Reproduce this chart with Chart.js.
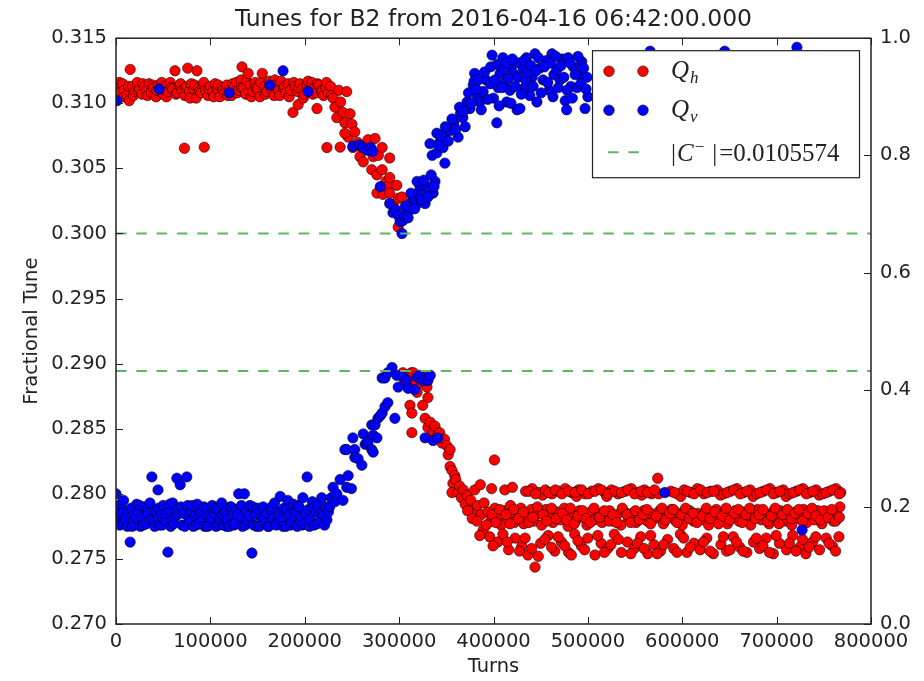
<!DOCTYPE html>
<html>
<head>
<meta charset="utf-8">
<title>Tunes for B2</title>
<script src="https://cdn.jsdelivr.net/npm/chart.js@4.4.0/dist/chart.umd.min.js"></script>
<style>
  html, body { margin: 0; padding: 0; background: #fff; }
  #wrap { width: 924px; height: 681px; }
</style>
</head>
<body>
<div id="wrap"><canvas id="tunes" width="924" height="681"></canvas></div>
<script>
// --- axis limits and tick steps ---
const turnRange = [0, 800000];
const turnStep = 100000;
const tuneRange = [0.270, 0.315];
const tuneStep = 0.005;
const rightRange = [0.0, 1.0];
const rightStep = 0.2;

// dashed levels and the |C-| value shown in the legend
const couplingLevels = [0.3, 0.2894426];
const cMinusText = '0.0105574';

// --- Q_h (red), [turns, tune] ---
const qhBandBefore = [
  [2000,0.3112],[3500,0.3116],[4500,0.3108],[7000,0.3115],[8500,0.3105],[9000,0.3110],[11500,0.3106],[13500,0.3113],
  [14000,0.3102],[15000,0.3126],[17500,0.3113],[18500,0.3106],[20000,0.3109],[22500,0.3116],[23500,0.3110],[25000,0.3111],
  [27500,0.3107],[28500,0.3115],[30000,0.3113],[32500,0.3110],[33500,0.3106],[35000,0.3115],[37500,0.3108],[38500,0.3114],
  [40000,0.3112],[42500,0.3105],[43500,0.3110],[45000,0.3114],[47500,0.3110],[48500,0.3116],[50000,0.3107],[52500,0.3113],
  [53500,0.3105],[55000,0.3109],[57500,0.3116],[58500,0.3112],[60000,0.3111],[62500,0.3125],[63500,0.3107],[65000,0.3108],
  [67500,0.3114],[68500,0.3115],[70000,0.3110],[72500,0.30655],[73000,0.3106],[73500,0.3112],[75000,0.3113],[76000,0.3127],
  [78000,0.3109],[78500,0.3104],[80000,0.3115],[82500,0.3111],[83500,0.3114],[85000,0.3104],[85800,0.3125],[87500,0.3112],
  [88500,0.3109],[90000,0.3108],[92500,0.3114],[93000,0.3116],[93500,0.30663],[95000,0.3110],[97500,0.3106],[98500,0.3111],
  [100000,0.3113],[102500,0.3109],[103500,0.3105],[105000,0.3115],[107500,0.3111],[108500,0.3114],[110000,0.3105],[112500,0.3112],
  [113500,0.3110],[115000,0.3108],[117500,0.3114],[118500,0.3106],[120000,0.3110],[122500,0.3106],[123500,0.3115],[125000,0.3113],
  [127500,0.3116],[128500,0.3108],[130000,0.3110],[132500,0.3118],[133000,0.3112],[133500,0.3128],[135000,0.3112],[137500,0.3107],
  [138500,0.3117],[140000,0.3123],[142500,0.3114],[143500,0.3105],[145000,0.3109],[147500,0.3116],[148500,0.3112],[150000,0.3111],
  [152500,0.3105],[153500,0.3116],[155000,0.3123],[157500,0.3113],[158500,0.3107],[160000,0.3109],[162500,0.3117],[163500,0.3113],
  [165000,0.3111],[167500,0.3106],[168500,0.3118],[170000,0.3114],[172500,0.3110],[173500,0.3106],[175000,0.3117],[177500,0.3112],
  [178500,0.3113],[180000,0.3108],[182500,0.3115],[183500,0.3105],[185000,0.3110],[187500,0.3093],[188500,0.3116],[190000,0.3113],
  [192500,0.3109],[193000,0.3099],[193500,0.3112],[195000,0.3115],[197500,0.3111],[198500,0.3104],[200000,0.3107],[202500,0.3114],
  [203500,0.3117],[205000,0.3110],[207500,0.3116],[208500,0.3107],[210000,0.3112],[212500,0.3108],[213000,0.3096],[213500,0.3115],
  [215000,0.3114],[217500,0.3110],[218500,0.3109],[220000,0.3106],[222500,0.3112],[223000,0.3116],[223500,0.3066],[225000,0.3108],
  [227500,0.3113],[228500,0.3106],[230000,0.3104],[232000,0.3097],[234000,0.3089],[236000,0.3110],[238000,0.3101],[240500,0.3093],
  [242500,0.3085],[244500,0.3109]
];
const qhFall = [
  [246000,0.3074],[242500,0.3077],[237500,0.30663],[248000,0.3092],[250000,0.3084],[251000,0.3066],[253000,0.3078],[256000,0.3070],
  [258500,0.3059],[260000,0.3066],[262000,0.3055],[264000,0.3068],[267000,0.3072],[268000,0.3064],[271000,0.3049],[272500,0.3059],
  [274500,0.3073],[276500,0.3045],[276500,0.3031],[278000,0.3060],[282000,0.3066],[282000,0.3049],[283000,0.3030],[286000,0.3040],
  [288000,0.3036],[290000,0.3043],[290000,0.3031],[290000,0.3058],[293500,0.3022],[295500,0.3019],[297500,0.3037],[299000,0.3027],
  [299000,0.3005],[301000,0.3012],[303000,0.3028]
];
const qhAfter = [
  [304000,0.2893],[306000,0.2886],[309000,0.2891],[311500,0.2884],[313000,0.2893],[315000,0.2893],[317000,0.2887],[319000,0.2878],
  [321000,0.2889],[324000,0.2885],[327000,0.2890],[329500,0.2882],[330500,0.2874],[311500,0.2868],[313500,0.2862],[325000,0.2868],
  [313500,0.2847],[327500,0.2858],[330500,0.2851],[333000,0.2855],[336000,0.2847],[338000,0.2852],[340000,0.2844],[343000,0.2847],
  [345500,0.2839],[348000,0.2842],[350500,0.2837],[352000,0.2830],[354000,0.2834],[354000,0.2821],[356000,0.2818],[359000,0.2814],
  [357000,0.2808],[356000,0.2801],[362500,0.2801],[360000,0.2811],[364000,0.2806],[366000,0.2797],[368000,0.2803],[370000,0.2792],
  [372000,0.2799],[376000,0.2795],[379000,0.2788],[380000,0.2803],[383000,0.2791],[386000,0.2807],[387000,0.2784],[389000,0.2772],
  [390000,0.2793],[394000,0.2786],[396000,0.2767],[397000,0.2779],[398000,0.2804],[401000,0.2826],[401500,0.2789],[404000,0.2782],
  [404500,0.2763],[408000,0.2776],[410000,0.2769],[411000,0.2787],[412000,0.2803],[415000,0.2781],[416000,0.2757],[418000,0.2791],
  [420000,0.2805],[422000,0.2778],[423000,0.2766],[425000,0.2785],[429000,0.2789],[430000,0.2760],[432000,0.2777],[434000,0.2802],
  [436000,0.2783],[436500,0.2753],[440000,0.2788],[441000,0.2804],[443000,0.2779],[444000,0.27437],[447000,0.2785],[448000,0.2801],
  [450000,0.2762],[451000,0.2776],[452000,0.2799],[455000,0.2803],[455500,0.2788],[458000,0.2768],[459000,0.2782],[462000,0.2800],
  [463000,0.2778],[465000,0.2756],[467000,0.2786],[469000,0.2802],[471000,0.2780],[472000,0.2763],[475000,0.2789],[476000,0.2804],
  [479000,0.2775],[479500,0.2755],[483000,0.2801],[483500,0.2784],[486000,0.2769],[487000,0.2779],[488000,0.2798],[490000,0.2803],
  [491000,0.2787],[493000,0.2760],[495000,0.2782],[497000,0.2800],[499000,0.2776],[500000,0.2766],[503000,0.2786],[504000,0.2802],
  [507000,0.2780],[507500,0.2753],[511000,0.2804],[511500,0.2785],[514000,0.2762],[515000,0.2778],[518000,0.2801],[519000,0.2783],
  [520000,0.2798],[521000,0.2758],[523000,0.2787],[525000,0.2803],[527000,0.2779],[528000,0.2769],[531000,0.2784],[532000,0.2800],
  [535000,0.2776],[535500,0.2755],[539000,0.2786],[539500,0.2802],[542000,0.2763],[543000,0.2781],[546000,0.2804],[547000,0.2785],
  [549000,0.2758],[551000,0.2778],[553000,0.2801],[555000,0.2783],[556000,0.2767],[557000,0.2799],[559000,0.2787],[560000,0.2803],
  [563000,0.2779],[563500,0.2754],[567000,0.2785],[567500,0.2800],[570000,0.2761],[571000,0.2781],[574000,0.2812],[575000,0.2800],
  [576000,0.2787],[577000,0.2756],[580000,0.2777],[584000,0.2783],[584500,0.2765],[588000,0.2802],[588500,0.2788],[591000,0.2758],
  [592000,0.2780],[595000,0.2800],[596000,0.2785],[598000,0.2769],[598500,0.2798],[600000,0.2776],[602000,0.2803],[604000,0.2783],
  [605000,0.2755],[608000,0.2787],[609000,0.2801],[612000,0.2779],[612500,0.2762],[616000,0.2804],[616500,0.2785],[619000,0.2757],
  [620000,0.2780],[623000,0.2800],[624000,0.2786],[626000,0.2766],[628000,0.2776],[630000,0.2802],[632000,0.2783],[633000,0.2754],
  [636000,0.2788],[637000,0.2803],[640000,0.2781],[640500,0.2799],[641000,0.2761],[644000,0.2800],[644500,0.2785],[647000,0.2756],
  [648000,0.2777],[651000,0.2802],[652000,0.2784],[654000,0.2767],[656000,0.2787],[658000,0.2804],[660000,0.2779],[661000,0.2759],
  [664000,0.2786],[665000,0.2801],[668000,0.2781],[668500,0.2755],[672000,0.2803],[672500,0.2776],[675000,0.2798],[675500,0.2763],
  [676000,0.2785],[679000,0.2800],[680000,0.2788],[682000,0.2758],[684000,0.2780],[686000,0.2802],[688000,0.2784],[689000,0.2766],
  [692000,0.2777],[693000,0.2804],[696000,0.2786],[696500,0.2754],[700000,0.2801],[700500,0.2782],[703000,0.2762],[704000,0.2787],
  [707000,0.2803],[708000,0.2779],[710000,0.2798],[710500,0.2757],[712000,0.2784],[714000,0.2800],[716000,0.2776],[717000,0.2768],
  [720000,0.2786],[721000,0.2802],[724000,0.2781],[724500,0.2759],[728000,0.2804],[728500,0.2788],[731000,0.2754],[732000,0.2778],
  [735000,0.2801],[736000,0.2784],[738000,0.2763],[740000,0.2780],[742000,0.2803],[744000,0.2787],[745000,0.2799],[745500,0.2757],
  [748000,0.2777],[749000,0.2800],[752000,0.2783],[752500,0.2766],[756000,0.2802],[756500,0.2786],[759000,0.2760],[760000,0.2779],
  [763000,0.2804],[764000,0.2784],[766000,0.2767],[767000,0.2790],[768000,0.2801]
];
// more of the crowded lower red band (top row, middle cluster, bottom scatter)
const qhAfterTopRow = [
  [437500,0.2802],[444500,0.2800],[458500,0.2801],[465500,0.2803],[472500,0.2800],[479500,0.2802],[486500,0.2801],[493500,0.2803],
  [500500,0.2800],[507500,0.2802],[514500,0.2803],[521500,0.2800],[528500,0.2802],[535500,0.2801],[542500,0.2803],[549500,0.2800],
  [556500,0.2802],[563500,0.2801],[570500,0.2803],[591500,0.2801],[605500,0.2802],[612500,0.2800],[619500,0.2803],[626500,0.2801],
  [633500,0.2802],[647500,0.2801],[654500,0.2803],[661500,0.2800],[668500,0.2802],[682500,0.2801],[689500,0.2803],[696500,0.2800],
  [703500,0.2802],[717500,0.2801],[724500,0.2803],[731500,0.2800],[738500,0.2802],[752500,0.2801],[759500,0.2803],[766500,0.2800]
];
const qhAfterMiddle = [
  [372500,0.2787],[377500,0.2781],[382500,0.2779],[392500,0.2776],[398500,0.2784],[402500,0.2778],[406500,0.2788],[413500,0.2784],
  [417500,0.2777],[421500,0.2788],[426500,0.2781],[431500,0.2786],[437500,0.2778],[441500,0.2782],[446500,0.2790],[452500,0.2784],
  [456500,0.2779],[461500,0.2789],[466500,0.2781],[473500,0.2785],[477500,0.2780],[481500,0.2789],[485500,0.2777],[489500,0.2783],
  [494500,0.2787],[498500,0.2781],[502500,0.2778],[506500,0.2789],[512500,0.2782],[517500,0.2787],[522500,0.2779],[526500,0.2784],
  [530500,0.2778],[536500,0.2789],[541500,0.2784],[545500,0.2778],[550500,0.2787],[554500,0.2780],[558500,0.2784],[562500,0.2788],
  [566500,0.2777],[572500,0.2783],[578500,0.2789],[582500,0.2780],[586500,0.2785],[590500,0.2788],[594500,0.2778],[599500,0.2784],
  [603500,0.2789],[607500,0.2781],[611500,0.2785],[615500,0.2778],[621500,0.2783],[625500,0.2789],[629500,0.2781],[634500,0.2786],
  [638500,0.2777],[642500,0.2783],[646500,0.2789],[650500,0.2780],[655500,0.2785],[659500,0.2788],[663500,0.2778],[667500,0.2784],
  [671500,0.2789],[677500,0.2781],[681500,0.2784],[685500,0.2788],[690500,0.2779],[694500,0.2783],[698500,0.2789],[702500,0.2777],
  [706500,0.2784],[711500,0.2788],[715500,0.2781],[719500,0.2785],[723500,0.2788],[727500,0.2779],[733500,0.2785],[737500,0.2789],
  [741500,0.2783],[746500,0.2780],[750500,0.2787],[754500,0.2782],[758500,0.2788],[762500,0.2779],[766500,0.2782]
];
const qhAfterBottom = [
  [385500,0.2768],[399500,0.2760],[414500,0.2763],[427500,0.2756],[433500,0.2766],[440500,0.2758],[447500,0.2752],[454500,0.2765],
  [461500,0.2759],[468500,0.2767],[475500,0.2760],[482500,0.2753],[489500,0.2764],[496500,0.2757],[510500,0.2768],[517500,0.2755],
  [524500,0.2761],[532500,0.2765],[545500,0.2754],[552500,0.2762],[559500,0.2758],[566500,0.2768],[573500,0.2754],[580500,0.2761],
  [594500,0.2755],[601500,0.2766],[608500,0.2759],[622500,0.2763],[629500,0.2756],[643500,0.2767],[650500,0.2757],[657500,0.2763],
  [664500,0.2756],[678500,0.2766],[685500,0.2760],[692500,0.2755],[699500,0.2768],[713500,0.2762],[720500,0.2756],[727500,0.2765],
  [734500,0.2759],[741500,0.2767],[755500,0.2762],[762500,0.2756]
];

// --- Q_v (blue) ---
const qvBandBefore = [
  [0,0.2800],[1000,0.2783],[2000,0.2790],[4000,0.2776],[5000,0.2792],[6000,0.2785],[8000,0.2795],[9000,0.2777],
  [10000,0.2781],[12000,0.2775],[13000,0.2787],[15000,0.27629],[16000,0.2789],[17000,0.2775],[18000,0.2783],[20000,0.2776],
  [21000,0.2782],[22000,0.2792],[24000,0.2786],[25000,0.2791],[26000,0.2775],[28000,0.2782],[29000,0.2776],[30000,0.2790],
  [32000,0.2777],[33000,0.2788],[34000,0.2785],[36000,0.2793],[37000,0.2780],[38000,0.2813],[40000,0.2779],[41000,0.2775],
  [42000,0.2787],[44500,0.2803],[45000,0.2789],[46000,0.2776],[48000,0.2784],[49000,0.2776],[50000,0.2791],[52000,0.2779],
  [53000,0.2785],[55000,0.27552],[56000,0.2787],[57000,0.2792],[58000,0.2775],[60000,0.2793],[61000,0.2777],[62000,0.2782],
  [64500,0.2812],[65000,0.2784],[66000,0.2789],[68000,0.2807],[69000,0.2790],[70000,0.2776],[72000,0.2785],[73000,0.2775],
  [75000,0.2813],[76000,0.2791],[77000,0.2782],[78000,0.2779],[80000,0.2787],[81000,0.2791],[82000,0.2775],[84000,0.2783],
  [85000,0.2776],[86000,0.2792],[88000,0.2777],[89000,0.2784],[90000,0.2786],[92000,0.2780],[93000,0.2790],[94000,0.2775],
  [96000,0.2789],[97000,0.2775],[98000,0.2783],[100000,0.2776],[101000,0.2781],[102000,0.2791],[104000,0.2785],[105000,0.2789],
  [106000,0.2775],[108000,0.2788],[109000,0.2776],[110000,0.2781],[112000,0.2793],[113000,0.2784],[114000,0.2776],[116000,0.2786],
  [117000,0.2775],[118000,0.2780],[120000,0.2775],[121000,0.2790],[122000,0.2790],[124000,0.2784],[125000,0.2776],[126000,0.2777],
  [128000,0.2788],[129000,0.2784],[130000,0.2800],[132000,0.2782],[133000,0.2791],[134000,0.2775],[136000,0.2800],[137000,0.2776],
  [138000,0.2786],[140000,0.2779],[141000,0.2783],[142000,0.2791],[144000,0.27545],[145000,0.2790],[146000,0.2776],[148000,0.2784],
  [149000,0.2775],[150000,0.2789],[152000,0.2775],[153000,0.2787],[154000,0.2782],[156000,0.2790],[157000,0.2781],[158000,0.2777],
  [160000,0.2785],[161000,0.2775],[162000,0.2775],[164000,0.2788],[165000,0.2790],[166000,0.2781],[168000,0.2793],[169000,0.2777],
  [170000,0.2776],[172000,0.2786],[173000,0.2784],[174000,0.2798],[176000,0.2780],[177000,0.2775],[178000,0.2789],[180000,0.2775],
  [181000,0.2788],[182000,0.2795],[184000,0.2784],[185000,0.2776],[186000,0.2778],[188000,0.2792],[189000,0.2783],[190000,0.2786],
  [192000,0.2775],[193000,0.2791],[194000,0.2790],[196000,0.2782],[197000,0.2776],[198000,0.2797],[200000,0.2777],[201000,0.2785],
  [202500,0.2813],[204000,0.2788],[205000,0.2775],[206000,0.2780],[208000,0.2794],[209000,0.2789],[210000,0.2776],[212000,0.2786],
  [213000,0.2777],[214000,0.2791],[216000,0.2779],[217000,0.2785],[218000,0.2797],[220000,0.2784],[221000,0.2776],[222000,0.2790],
  [223500,0.2780],[225000,0.2786],[226500,0.2790],[228000,0.2797]
];
const qvRise = [
  [230000,0.2805],[232000,0.2794],[234000,0.2800],[237500,0.2811],[240500,0.2795],[242500,0.2834],[244500,0.2805],[244500,0.2834],
  [246000,0.2814],[249500,0.2804],[251000,0.2843],[253000,0.2834],[253000,0.2828],[256500,0.2827],[260500,0.2822],[262000,0.2846],
  [264000,0.2838],[266000,0.2839],[267000,0.2840],[271000,0.2853],[271000,0.2834],[272500,0.2845],[272500,0.2832],[274500,0.2853],
  [276500,0.2843],[277500,0.2858],[280000,0.2860],[282000,0.2862],[285000,0.2867],[288000,0.2870],[295500,0.2858],[282000,0.2889],
  [285000,0.2889],[288000,0.2893],[292500,0.2897],[297500,0.2891],[299000,0.2882],[304000,0.2890],[308000,0.2887],[309500,0.2881],
  [316500,0.2880],[319000,0.2890],[322000,0.2891],[325000,0.2887],[330500,0.2887],[333000,0.2891],[327500,0.2843],[336000,0.2841],
  [341000,0.2843]
];
const qvAfter = [
  [1000,0.3102],[45800,0.3111],[120000,0.3108],[163000,0.3114],[177000,0.3125],[203500,0.3109],
  [251000,0.3067],[258000,0.3068],[262000,0.3066],[266000,0.3064],[270000,0.3066],[272000,0.3063],[280000,0.3036],[290000,0.3023],
  [293500,0.3016],[296000,0.3018],[299000,0.3014],[301000,0.3009],[304000,0.3010],[303000,0.3000],[306000,0.3013],[308000,0.3018],
  [311500,0.3018],[313000,0.3024],[315000,0.3028],[318000,0.3022],[320000,0.3031],[322000,0.3036],[325000,0.3030],[327500,0.3023],
  [329500,0.3036],[332000,0.3033],[336000,0.3031],[338000,0.3040],[332700,0.3069],[335000,0.3060],[340000,0.3077],[340000,0.3062],
  [343000,0.3070],[346500,0.3066],[346500,0.3072],[348500,0.3054],[350700,0.3079],[354000,0.3079],[358000,0.3085],[362500,0.3074],
  [365000,0.3092],[367500,0.3089],[370000,0.3082],[372000,0.3101],[375000,0.3096],[378500,0.3114],[380000,0.3123],[383000,0.3105],
  [385500,0.3101],[389000,0.3109],[392000,0.3118],[396500,0.3115],[398500,0.3137],[400000,0.3104],[403500,0.3085],[405000,0.3112],
  [407000,0.3123],[410000,0.3135],[412000,0.3116],[414000,0.3101],[417500,0.3110],[419000,0.3128],[421000,0.3123],[425000,0.3095],
  [427000,0.3131],[428000,0.3096],[431500,0.3126],[433000,0.3112],[435000,0.3135],[438500,0.3106],[441000,0.3120],[444000,0.3138],
  [446000,0.3101],[449000,0.3127],[452500,0.3118],[456500,0.3133],[459000,0.3110],[462000,0.3138],[464000,0.3122],[467000,0.3126],
  [470500,0.3118],[473000,0.3134],[476000,0.3102],[477500,0.3095],[479000,0.3135],[482000,0.3113],[484500,0.3128],[488500,0.3112],
  [491000,0.3122],[493500,0.3132],[497000,0.3096],[499000,0.3120],[500000,0.3105],[510000,0.3118],[530000,0.3127],[560000,0.3110],
  [566000,0.3140],[590000,0.3131],[620000,0.3115],[645000,0.3140],[680000,0.3120],[700000,0.3108],[721500,0.3143],[740000,0.3125],
  [760000,0.3112],[581500,0.2801],[727000,0.27722]
];
// extra blue points where the upper branch is crowded
const qvAfterDense = [
  [306500,0.3021],[309500,0.3012],[312500,0.3031],[316500,0.3019],[319000,0.3040],[323500,0.3026],[326000,0.3041],[330500,0.3028],
  [334000,0.3045],[337000,0.3036],[342000,0.3068],[344500,0.3075],[349000,0.3082],[352000,0.3071],[356000,0.3088],[360000,0.3080],
  [364000,0.3097],[368500,0.3094],[373500,0.3108],[376500,0.3100],[379500,0.3117],[381500,0.3111],[384000,0.3118],[387000,0.3095],
  [390500,0.3124],[394000,0.3103],[397000,0.3128],[401500,0.3118],[404000,0.3130],[406000,0.3098],[409000,0.3112],[411000,0.3126],
  [413000,0.3131],[416000,0.3119],[418500,0.3100],[420000,0.3134],[423000,0.3113],[426000,0.3120],[429500,0.3107],[432500,0.3133],
  [434000,0.3118],[436500,0.3124],[439500,0.3129],[442000,0.3113],[445000,0.3125],[447500,0.3135],[450500,0.3108],[454000,0.3128],
  [457500,0.3116],[460500,0.3131],[463000,0.3105],[466000,0.3136],[468500,0.3112],[471500,0.3129],[474500,0.3120],[478000,0.3110],
  [481000,0.3131],[483500,0.3104],[486500,0.3122],[489500,0.3136],[492500,0.3115],[495500,0.3127],[498000,0.3111]
];

const qhPoints = qhBandBefore.concat(qhFall, qhAfter, qhAfterTopRow, qhAfterMiddle, qhAfterBottom);
const qvPoints = qvBandBefore.concat(qvRise, qvAfter, qvAfterDense);

const toXY = pts => pts.map(p => ({ x: p[0], y: p[1] }));

const RED = '#ff0000';
const BLUE = '#0000ff';
const GREEN = '#5db85d';
const DASH = [10.5, 9.8];
const tickFont = { family: 'DejaVu Sans', size: 19.5 };

// frame, inward tick marks (matplotlib style) and the legend box
const axesDecor = {
    id: 'axesDecor',
    afterDatasetsDraw(chart) {
        const { ctx, chartArea: a, scales } = chart;
        ctx.save();
        ctx.strokeStyle = '#222';
        ctx.lineWidth = 1;
        const seg = (x1, y1, x2, y2) => {
            ctx.beginPath(); ctx.moveTo(x1, y1); ctx.lineTo(x2, y2); ctx.stroke();
        };
        scales.x.ticks.forEach(t => {
            const px = Math.round(scales.x.getPixelForValue(t.value)) + 0.5;
            seg(px, a.bottom, px, a.bottom - 7);
            seg(px, a.top, px, a.top + 7);
        });
        scales.y.ticks.forEach(t => {
            const py = Math.round(scales.y.getPixelForValue(t.value)) + 0.5;
            seg(a.left, py, a.left + 7, py);
        });
        scales.y2.ticks.forEach(t => {
            const py = Math.round(scales.y2.getPixelForValue(t.value)) + 0.5;
            seg(a.right, py, a.right - 7, py);
        });
        ctx.lineWidth = 1.5;
        ctx.strokeRect(a.left, a.top, a.right - a.left, a.bottom - a.top);

        // legend
        const lx = a.right - 279, ly = a.top + 12, lw = 267, lh = 127;
        ctx.fillStyle = '#fff';
        ctx.fillRect(lx, ly, lw, lh);
        ctx.strokeStyle = '#222';
        ctx.lineWidth = 1.2;
        ctx.strokeRect(lx + 0.5, ly + 0.5, lw, lh);

        const dot = (x, y, c) => {
            ctx.beginPath(); ctx.arc(x, y, 5.3, 0, Math.PI * 2);
            ctx.fillStyle = c; ctx.fill();
            ctx.lineWidth = 0.7; ctx.strokeStyle = 'rgba(0,0,0,0.8)'; ctx.stroke();
        };
        const rows = [ly + 21, ly + 60, ly + 102];
        dot(lx + 17, rows[0], RED); dot(lx + 51, rows[0], RED);
        dot(lx + 17, rows[1], BLUE); dot(lx + 51, rows[1], BLUE);
        ctx.strokeStyle = GREEN; ctx.lineWidth = 2;
        ctx.setLineDash(DASH);
        seg(lx + 16, rows[2], lx + 49, rows[2]);
        ctx.setLineDash([]);

        const tx = lx + 79;
        ctx.fillStyle = '#222';
        ctx.textBaseline = 'alphabetic';
        ctx.textAlign = 'left';
        const math = (sub, y) => {
            ctx.font = 'italic 25px "Liberation Serif"';
            ctx.fillText('Q', tx, y + 7);
            const w = ctx.measureText('Q').width;
            ctx.font = 'italic 17px "Liberation Serif"';
            ctx.fillText(sub, tx + w + 1, y + 12);
        };
        math('h', rows[0]);
        math('v', rows[1]);

        const by = rows[2] + 9;
        let cx = tx;
        ctx.font = '25px "Liberation Serif"';
        ctx.fillText('|', cx, by); cx += ctx.measureText('|').width + 1;
        ctx.font = 'italic 25px "Liberation Serif"';
        ctx.fillText('C', cx, by); cx += ctx.measureText('C').width + 1;
        ctx.font = '17px "Liberation Serif"';
        ctx.fillText('\u2212', cx, by - 9); cx += ctx.measureText('\u2212').width + 8;
        ctx.font = '25px "Liberation Serif"';
        ctx.fillText('|', cx, by); cx += ctx.measureText('|').width + 2;
        ctx.fillText('=' + cMinusText, cx, by);
        ctx.restore();
    }
};

const levelSets = couplingLevels.map(level => ({
    label: 'level',
    data: [{ x: turnRange[0], y: level }, { x: turnRange[1], y: level }],
    showLine: true,
    borderColor: GREEN,
    borderWidth: 2,
    borderDash: DASH,
    pointRadius: 0,
    order: 0
}));

new Chart(document.getElementById('tunes'), {
    type: 'scatter',
    data: {
        datasets: [
            ...levelSets,
            {
                label: 'Qv',
                data: toXY(qvPoints),
                backgroundColor: BLUE,
                borderColor: 'rgba(0,0,0,0.8)',
                borderWidth: 0.7,
                pointRadius: 5.2,
                order: 1
            },
            {
                label: 'Qh',
                data: toXY(qhPoints),
                backgroundColor: RED,
                borderColor: 'rgba(0,0,0,0.8)',
                borderWidth: 0.7,
                pointRadius: 5.2,
                order: 2
            }
        ]
    },
    options: {
        responsive: false,
        animation: false,
        devicePixelRatio: 1,
        layout: { padding: 0 },
        plugins: {
            legend: { display: false },
            tooltip: { enabled: false },
            title: {
                display: true,
                fullSize: false,
                text: 'Tunes for B2 from 2016-04-16 06:42:00.000',
                color: '#222',
                font: { family: 'DejaVu Sans', size: 23.5, weight: 'normal' },
                padding: { top: 6, bottom: 4 }
            }
        },
        scales: {
            x: {
                type: 'linear',
                min: turnRange[0],
                max: turnRange[1],
                grid: { display: false, drawTicks: false },
                border: { display: false },
                ticks: {
                    stepSize: turnStep,
                    autoSkip: false,
                    maxRotation: 0,
                    padding: 6,
                    color: '#222',
                    font: tickFont,
                    callback: v => String(v)
                },
                title: { display: true, text: 'Turns', color: '#222', font: tickFont, padding: { top: 0, bottom: 2 } },
                afterFit: s => { s.height = 57; }
            },
            y: {
                type: 'linear',
                position: 'left',
                min: tuneRange[0],
                max: tuneRange[1],
                grid: { display: false, drawTicks: false },
                border: { display: false },
                ticks: {
                    stepSize: tuneStep,
                    autoSkip: false,
                    padding: 9,
                    color: '#222',
                    font: tickFont,
                    callback: v => v.toFixed(3)
                },
                title: { display: true, text: 'Fractional Tune', color: '#222', font: tickFont, padding: { top: 20, bottom: 0 } },
                afterFit: s => { s.width = 116; }
            },
            y2: {
                type: 'linear',
                position: 'right',
                min: rightRange[0],
                max: rightRange[1],
                grid: { display: false, drawTicks: false },
                border: { display: false },
                ticks: {
                    stepSize: rightStep,
                    autoSkip: false,
                    padding: 9,
                    color: '#222',
                    font: tickFont,
                    callback: v => v.toFixed(1)
                },
                afterFit: s => { s.width = 53; }
            }
        }
    },
    plugins: [axesDecor]
});
</script>
</body>
</html>
